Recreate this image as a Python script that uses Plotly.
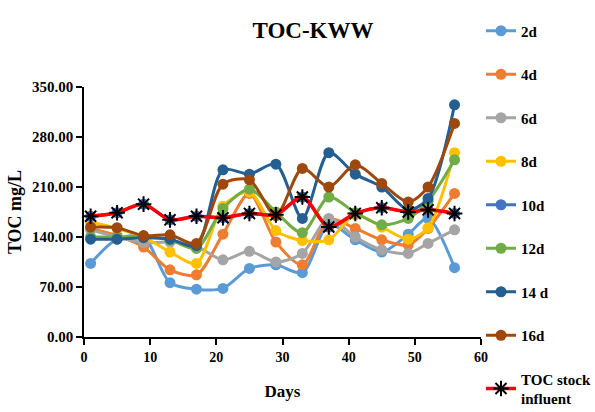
import plotly.graph_objects as go

days = [1, 5, 9, 13, 17, 21, 25, 29, 33, 37, 41, 45, 49, 52, 56]

d2 = [103, 137, 140, 76, 67, 68, 96, 101, 90, 158, 136, 119, 144, 166, 97]
d4 = [152, 142, 126, 94, 87, 144, 201, 133, 101, 165, 152, 136, 129, 152, 201]
d6 = [150, 140, 132, 133, 127, 108, 120, 105, 117, 166, 140, 122, 117, 131, 150]
d8 = [161, 152, 140, 119, 103, 183, 203, 149, 135, 136, 171, 154, 137, 153, 258]
d10 = [169, 174, 186, 164, 169, 167, 173, 171, 196, 154, 173, 181, 175, 178, 173]
d12 = [140, 140, 140, 136, 124, 180, 207, 175, 146, 196, 174, 157, 166, 190, 248]
d14 = [137, 137, 139, 137, 128, 234, 228, 242, 166, 258, 228, 210, 178, 194, 325]
d16 = [154, 153, 142, 143, 131, 214, 220, 170, 236, 210, 241, 215, 189, 210, 299]
influent = [169, 174, 186, 164, 169, 167, 173, 171, 196, 154, 173, 181, 175, 178, 173]

series_names = ["2d", "4d", "6d", "8d", "10d", "12d", "14 d", "16d"]
series_values = [d2, d4, d6, d8, d10, d12, d14, d16]
colors = ["#5B9BD5", "#ED7D31", "#A5A5A5", "#FFC000", "#4472C4", "#70AD47", "#255E91", "#9E480E"]

y_ticks = [0, 70, 140, 210, 280, 350]
y_tick_labels = ["0.00", "70.00", "140.00", "210.00", "280.00", "350.00"]
x_ticks = [0, 10, 20, 30, 40, 50, 60]

font_family = "Liberation Serif"

fig = go.Figure()
for i, (name, vals, col) in enumerate(zip(series_names, series_values, colors)):
    fig.add_trace(go.Scatter(
        x=days, y=vals, name=f"<b>{name}</b>", mode="lines+markers",
        line=dict(color=col, width=3, shape="spline", smoothing=0.8),
        marker=dict(color=col, size=11, symbol="circle"),
        legendgroup=name,
    ))

fig.add_trace(go.Scatter(
    x=days, y=influent, name="<b>TOC stock</b><br><b>influent</b>", mode="lines+markers",
    line=dict(color="#FF0000", width=3.5, shape="spline", smoothing=0.8),
    marker=dict(symbol="asterisk-open", size=13, color="black",
                line=dict(color="black", width=2)),
    legendgroup="influent",
))

fig.update_layout(
    width=595, height=412,
    margin=dict(l=84, r=114, t=87, b=75, autoexpand=False),
    paper_bgcolor="white", plot_bgcolor="white",
    font=dict(family=font_family, color="black", size=13),
    title=dict(text="<b>TOC-KWW</b>", x=313 / 595, xanchor="center",
               y=1 - 30 / 412, yanchor="middle",
               font=dict(family=font_family, size=23, color="black")),
    showlegend=True,
    legend=dict(x=1.0, xanchor="left", y=1.29, yanchor="top",
                font=dict(family=font_family, size=15, color="black"),
                tracegroupgap=21, itemwidth=30, bgcolor="rgba(0,0,0,0)",
                traceorder="grouped", maxheight=600),
)

fig.update_xaxes(
    range=[0, 60], tickvals=x_ticks, ticktext=[f"<b>{v}</b>" for v in x_ticks],
    showline=True, linecolor="black", linewidth=1.5,
    ticks="outside", ticklen=6, tickcolor="black", tickwidth=1.5,
    showgrid=False, zeroline=False,
    tickfont=dict(family=font_family, size=14, color="black"),
    title=dict(text="<b>Days</b>", font=dict(family=font_family, size=17, color="black"),
               standoff=22),
)
fig.update_yaxes(
    range=[0, 350], tickvals=y_ticks, ticktext=[f"<b>{t}</b>" for t in y_tick_labels],
    showline=True, linecolor="black", linewidth=1.5,
    ticks="outside", ticklen=6, tickcolor="black", tickwidth=1.5,
    showgrid=False, zeroline=False,
    tickfont=dict(family=font_family, size=15, color="black"),
    title=dict(text="<b>TOC mg/L</b>", font=dict(family=font_family, size=18, color="black"),
               standoff=6),
)

fig.write_html("out.html")
